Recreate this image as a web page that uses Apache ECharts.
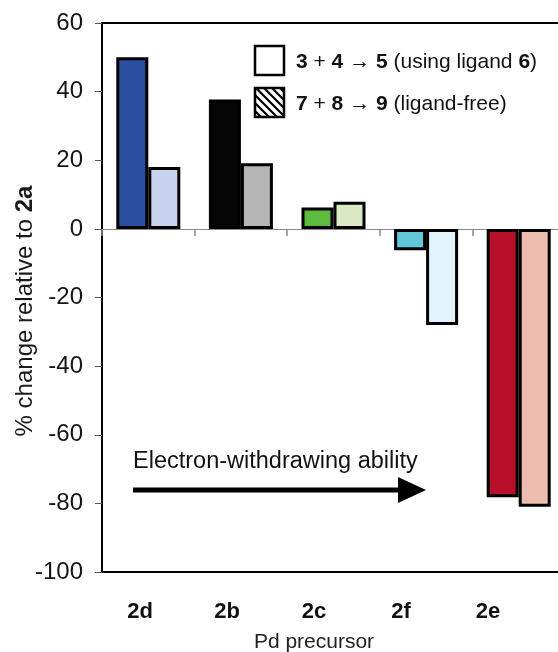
<!DOCTYPE html>
<html>
<head>
<meta charset="utf-8">
<script src="https://cdn.jsdelivr.net/npm/echarts@6/dist/echarts.min.js"></script>
<style>
html,body{margin:0;padding:0;background:#fff;}
#chart{width:558px;height:652px;}
</style>
</head>
<body>
<div id="chart"></div>
<script>
const categories = ['2d', '2b', '2c', '2f', '2e'];
const ligandValues = [50, 37.7, 6.2, -6.2, -78.2];
const ligandFreeValues = [18, 19.1, 7.9, -28, -81];
const ligandColors = ['#2a4fa0', '#050505', '#5cba3c', '#60c6d8', '#b8102a'];
const ligandFreeColors = ['#c9d3ef', '#b6b6b6', '#d9eac4', '#e2f4fb', '#ecbcae'];
const yMin = -100, yMax = 60, yStep = 20;
const seriesNames = ['3 + 4 → 5 (using ligand 6)', '7 + 8 → 9 (ligand-free)'];

const FONT = 'Liberation Sans, Arial, sans-serif';

// hatch pattern for legend
const hatch = document.createElement('canvas');
hatch.width = 8; hatch.height = 8;
(function(){
  const c = hatch.getContext('2d');
  c.fillStyle = '#fff'; c.fillRect(0,0,8,8);
  c.strokeStyle = '#000'; c.lineWidth = 2.2;
  c.beginPath();
  c.moveTo(-2,-2); c.lineTo(10,10);
  c.moveTo(-6,2); c.lineTo(6,14);
  c.moveTo(2,-6); c.lineTo(14,6);
  c.stroke();
})();

const chart = echarts.init(document.getElementById('chart'), null, {renderer: 'canvas'});
chart.setOption({
  animation: false,
  backgroundColor: '#fff',
  textStyle: {fontFamily: FONT},
  grid: [
    {left: 102, top: 23, width: 463, bottom: 80, outerBoundsMode: 'none', containLabel: false,
      show: true, borderColor: '#000', borderWidth: 2, backgroundColor: 'transparent'},
    {left: 96.5, top: 23, width: 435, bottom: 80, outerBoundsMode: 'none', containLabel: false, show: false}
  ],
  xAxis: [
    {
      type: 'category', data: categories, gridIndex: 0,
      axisLine: {onZero: true, lineStyle: {color: '#8a8a8a', width: 1}},
      axisTick: {show: true, length: 7, lineStyle: {color: '#8a8a8a', width: 1.5}},
      axisLabel: {show: false}
    },
    {
      type: 'category', data: categories, gridIndex: 1, position: 'bottom',
      axisLine: {show: false}, axisTick: {show: false},
      axisLabel: {fontSize: 22, fontWeight: 'bold', color: '#111', margin: 29, fontFamily: FONT},
      name: 'Pd precursor', nameLocation: 'middle', nameGap: 60,
      nameTextStyle: {fontSize: 21, color: '#222', fontFamily: FONT}
    }
  ],
  yAxis: [
    {
      type: 'value', gridIndex: 0, min: yMin, max: yMax, interval: yStep,
      axisLine: {show: true, lineStyle: {color: '#000', width: 2}},
      axisTick: {show: true, length: 7, lineStyle: {color: '#555', width: 1}},
      axisLabel: {fontSize: 24, color: '#161616', margin: 19, fontFamily: FONT},
      splitLine: {show: false}
    },
    {type: 'value', gridIndex: 1, min: yMin, max: yMax, show: false}
  ],
  series: [
    {
      name: seriesNames[0], type: 'bar', xAxisIndex: 0, yAxisIndex: 0,
      barWidth: 32, barGap: '0%',
      data: ligandValues.map((v, i) => ({value: v, itemStyle: {color: ligandColors[i]}})),
      itemStyle: {borderColor: '#000', borderWidth: 3}
    },
    {
      name: seriesNames[1], type: 'bar', xAxisIndex: 0, yAxisIndex: 0,
      barWidth: 32, barGap: '0%',
      data: ligandFreeValues.map((v, i) => ({value: v, itemStyle: {color: ligandFreeColors[i]}})),
      itemStyle: {borderColor: '#000', borderWidth: 3}
    }
  ],
  graphic: [
    {type: 'text', x: 25, y: 311, rotation: Math.PI / 2, z: 10,
      style: {text: '% change relative to {b|2a}', fontSize: 24, fill: '#1a1a1a', fontFamily: FONT,
        align: 'center', verticalAlign: 'middle',
        rich: {b: {fontWeight: 'bold', fontSize: 24, fontFamily: FONT, fill: '#1a1a1a'}}}},
    {type: 'rect', shape: {x: 255, y: 46, width: 29, height: 29}, style: {fill: '#fff', stroke: '#000', lineWidth: 2.5}, z: 10},
    {type: 'rect', shape: {x: 255, y: 88, width: 29, height: 29}, style: {fill: {image: hatch, repeat: 'repeat'}, stroke: '#000', lineWidth: 2.5}, z: 10},
    {type: 'text', x: 296, y: 62, z: 10,
      style: {text: '{b|3} + {b|4} → {b|5} (using ligand {b|6})', fontSize: 21, fill: '#111', fontFamily: FONT, verticalAlign: 'middle',
        rich: {b: {fontWeight: 'bold', fontSize: 21, fontFamily: FONT, fill: '#111'}}}},
    {type: 'text', x: 296, y: 104, z: 10,
      style: {text: '{b|7} + {b|8} → {b|9} (ligand-free)', fontSize: 21, fill: '#111', fontFamily: FONT, verticalAlign: 'middle',
        rich: {b: {fontWeight: 'bold', fontSize: 21, fontFamily: FONT, fill: '#111'}}}},
    {type: 'text', x: 133, y: 462, z: 10,
      style: {text: 'Electron-withdrawing ability', fontSize: 23.5, fill: '#111', fontFamily: FONT, verticalAlign: 'middle'}},
    {type: 'line', shape: {x1: 133, y1: 490, x2: 402, y2: 490}, style: {stroke: '#000', lineWidth: 5}, z: 10},
    {type: 'polygon', shape: {points: [[398, 477], [426, 490], [398, 503]]}, style: {fill: '#000'}, z: 10}
  ]
});
</script>
</body>
</html>
